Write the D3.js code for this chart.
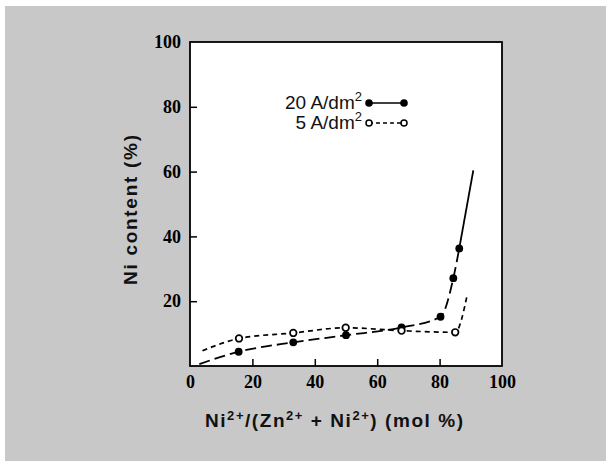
<!DOCTYPE html>
<html>
<head>
<meta charset="utf-8">
<script src="https://cdn.jsdelivr.net/npm/d3@7/dist/d3.min.js"></script>
<style>
  html, body { margin: 0; padding: 0; background: #ffffff; }
  svg { display: block; }
</style>
</head>
<body>
<svg id="chart" width="606" height="461"></svg>
<script>
// ---- data ----
const xTicks = [0, 20, 40, 60, 80, 100];
const yTicks = [20, 40, 60, 80, 100];

// 20 A/dm2 (filled circles)
const x20 = [15.6, 33.1, 50.0, 67.8, 80.3, 84.4, 86.3];
const y20 = [4.4, 7.3, 9.5, 11.9, 15.2, 27.1, 36.3];
const start20 = [3.0, 0.6];
const end20 = [90.8, 60.4];

// 5 A/dm2 (open circles)
const x5 = [15.7, 33.1, 49.9, 67.8, 85.0];
const y5 = [8.5, 10.2, 11.8, 10.9, 10.4];
const start5 = [4.0, 4.7];
const end5 = [88.9, 22.2];

const legendLabels = ["20 A/dm", "5 A/dm"];

// ---- layout ----
const svg = d3.select("#chart");
const W = 606, H = 461;
const plotL = 190, plotR = 502, plotT = 42, plotB = 366;

// paper background
svg.append("rect").attr("x", 0).attr("y", 0).attr("width", W).attr("height", H).attr("fill", "#ffffff");
svg.append("rect").attr("x", 5).attr("y", 6).attr("width", W - 5).attr("height", H - 6).attr("fill", "#c8c8c8");

const x = d3.scaleLinear().domain([0, 100]).range([plotL, plotR]);
const y = d3.scaleLinear().domain([0, 100]).range([plotB, plotT]);

// plot area
svg.append("rect").attr("x", plotL).attr("y", plotT).attr("width", plotR - plotL).attr("height", plotB - plotT)
  .attr("fill", "#ffffff").attr("stroke", "#000").attr("stroke-width", 1.8);

const tickFont = "'Liberation Serif', 'DejaVu Serif', serif";

// axes (ticks inward)
const xAxis = d3.axisBottom(x).tickValues(xTicks).tickSize(-7).tickPadding(9).tickFormat(d3.format("d"));
const gx = svg.append("g").attr("transform", `translate(0,${plotB})`).call(xAxis);
gx.select(".domain").remove();
gx.selectAll(".tick line").attr("stroke", "#000").attr("stroke-width", 1.5)
  .filter(d => d === 0 || d === 100).remove();
gx.selectAll(".tick text").attr("font-family", tickFont)
  .attr("font-weight", "bold").attr("font-size", 18).attr("fill", "#000");

const yAxis = d3.axisLeft(y).tickValues(yTicks).tickSize(-7).tickPadding(9).tickFormat(d3.format("d"));
const gy = svg.append("g").attr("transform", `translate(${plotL},0)`).call(yAxis);
gy.select(".domain").remove();
gy.selectAll(".tick line").attr("stroke", "#000").attr("stroke-width", 1.5)
  .filter(d => d === 100).remove();
gy.selectAll(".tick text").attr("font-family", tickFont)
  .attr("font-weight", "bold").attr("font-size", 18).attr("fill", "#000");

// axis titles
const sansFont = "'Liberation Sans', Arial, sans-serif";
const xt = svg.append("text").attr("x", 334).attr("y", 427).attr("text-anchor", "middle")
  .attr("font-family", sansFont).attr("font-weight", "bold")
  .attr("font-size", 19).attr("fill", "#111")
  .attr("textLength", 258).attr("lengthAdjust", "spacing");
xt.append("tspan").text("Ni");
xt.append("tspan").attr("dy", -7).attr("font-size", 13).text("2+");
xt.append("tspan").attr("dy", 7).text("/(Zn");
xt.append("tspan").attr("dy", -7).attr("font-size", 13).text("2+");
xt.append("tspan").attr("dy", 7).text(" + Ni");
xt.append("tspan").attr("dy", -7).attr("font-size", 13).text("2+");
xt.append("tspan").attr("dy", 7).text(") (mol %)");

svg.append("text").attr("transform", `translate(137,210) rotate(-90)`).attr("text-anchor", "middle")
  .attr("font-family", sansFont).attr("font-weight", "bold")
  .attr("font-size", 19).attr("fill", "#111")
  .attr("textLength", 150).attr("lengthAdjust", "spacing")
  .text("Ni content (%)");

// curves
const line = d3.line().x(d => x(d[0])).y(d => y(d[1])).curve(d3.curveMonotoneX);

const pts20 = [start20, ...x20.map((v, i) => [v, y20[i]]), end20];
const pts5 = [start5, ...x5.map((v, i) => [v, y5[i]]), end5];

// 20 A/dm2: long dashes, last stretch solid
svg.append("path").datum(pts20.slice(0, pts20.length - 1)).attr("d", line)
  .attr("fill", "none").attr("stroke", "#000").attr("stroke-width", 1.8).attr("stroke-dasharray", "11,5");
svg.append("path").datum(pts20.slice(pts20.length - 2)).attr("d", d3.line().x(d => x(d[0])).y(d => y(d[1])))
  .attr("fill", "none").attr("stroke", "#000").attr("stroke-width", 1.8);

// 5 A/dm2: short dashes
svg.append("path").datum(pts5).attr("d", line)
  .attr("fill", "none").attr("stroke", "#000").attr("stroke-width", 1.7).attr("stroke-dasharray", "5,4");

// markers
svg.append("g").selectAll("circle").data(x20.map((v, i) => [v, y20[i]])).join("circle")
  .attr("cx", d => x(d[0])).attr("cy", d => y(d[1])).attr("r", 3.9).attr("fill", "#000");
svg.append("g").selectAll("circle").data(x5.map((v, i) => [v, y5[i]])).join("circle")
  .attr("cx", d => x(d[0])).attr("cy", d => y(d[1])).attr("r", 3.3)
  .attr("fill", "#fff").attr("stroke", "#000").attr("stroke-width", 1.7);

// legend
const lg = svg.append("g");
const legY = [103, 123];
legendLabels.forEach((lab, i) => {
  const t = lg.append("text").attr("x", 362).attr("y", legY[i] + 6).attr("text-anchor", "end")
    .attr("font-family", sansFont).attr("font-size", 19).attr("fill", "#111");
  t.append("tspan").text(lab);
  t.append("tspan").attr("dy", -8).attr("font-size", 13).text("2");
});
lg.append("line").attr("x1", 369).attr("x2", 404).attr("y1", legY[0]).attr("y2", legY[0])
  .attr("stroke", "#000").attr("stroke-width", 1.6);
lg.append("line").attr("x1", 369).attr("x2", 404).attr("y1", legY[1]).attr("y2", legY[1])
  .attr("stroke", "#000").attr("stroke-width", 1.5).attr("stroke-dasharray", "4,3");
[369, 404].forEach(cx => {
  lg.append("circle").attr("cx", cx).attr("cy", legY[0]).attr("r", 3.8).attr("fill", "#000");
  lg.append("circle").attr("cx", cx).attr("cy", legY[1]).attr("r", 3).attr("fill", "#fff")
    .attr("stroke", "#000").attr("stroke-width", 1.5);
});
</script>
</body>
</html>
